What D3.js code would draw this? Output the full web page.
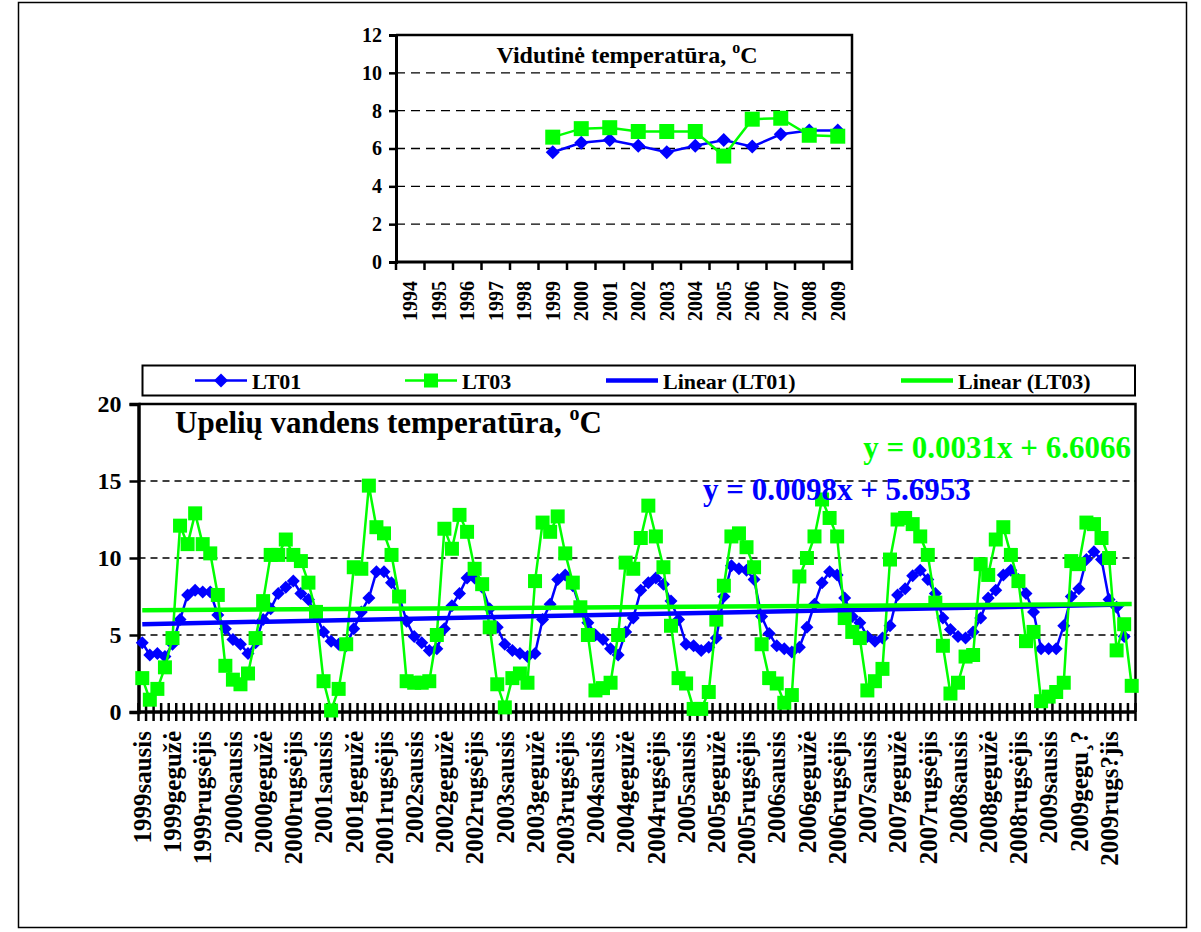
<!DOCTYPE html>
<html>
<head>
<meta charset="utf-8">
<script src="https://cdn.jsdelivr.net/npm/d3@7"></script>
<style>
body { margin: 0; background: #fff; }
svg text { font-family: "Liberation Serif", "DejaVu Serif", serif; font-weight: bold; fill: #000; }
</style>
</head>
<body>
<svg id="chart" width="1201" height="932"></svg>
<script>
// ---- data: yearly averages (top chart) ----
var yearLabels = ["1994","1995","1996","1997","1998","1999","2000","2001",
                  "2002","2003","2004","2005","2006","2007","2008","2009"];
var yearLT01 = [null,null,null,null,null,5.8,6.3,6.45,6.15,5.8,6.15,6.45,6.1,6.75,6.95,6.95];
var yearLT03 = [null,null,null,null,null,6.6,7.05,7.1,6.9,6.9,6.9,5.6,7.55,7.6,6.7,6.65];

// ---- data: monthly values 1999-2009 (bottom chart) ----
var monthLT01 = [
  4.5,3.7,3.8,3.6,4.4,6.0,7.6,7.9,7.8,7.8,6.3,5.4,
  4.7,4.4,3.8,4.5,6.0,6.7,7.7,8.1,8.5,7.7,7.3,6.3,
  5.2,4.6,4.4,4.3,5.4,6.5,7.4,9.1,9.1,8.4,7.5,5.9,
  4.9,4.5,4.0,4.1,5.4,6.9,7.7,8.7,8.7,8.1,6.7,5.5,
  4.4,4.0,3.8,3.6,3.8,6.0,7.0,8.6,8.9,8.2,6.7,5.8,
  5.0,4.7,4.1,3.7,5.2,6.1,7.9,8.4,8.7,8.3,7.2,6.0,
  4.4,4.3,4.0,4.2,4.8,7.5,9.5,9.3,9.2,8.6,6.2,5.1,
  4.3,4.1,3.9,4.2,5.5,7.0,8.4,9.1,8.9,7.4,6.2,5.8,
  4.9,4.6,4.8,5.6,7.6,8.0,8.85,9.2,8.6,7.7,6.1,5.35,
  4.9,4.8,5.2,6.1,7.4,7.9,8.9,9.2,8.6,7.7,6.5,4.1,
  4.1,4.1,5.6,7.5,8.0,9.9,10.4,9.9,7.3,6.8,4.9
];
var monthLT03 = [
  2.2,0.8,1.5,2.9,4.8,12.1,10.9,12.9,10.9,10.3,7.6,3.0,
  2.1,1.8,2.5,4.8,7.2,10.2,10.2,11.2,10.2,9.8,8.4,6.5,
  2.0,0.1,1.5,4.4,9.4,9.3,14.7,12.0,11.6,10.2,7.5,2.0,
  1.9,1.9,2.0,5.0,11.9,10.6,12.8,11.7,9.3,8.3,5.5,1.8,
  0.3,2.2,2.5,1.9,8.5,12.3,11.7,12.7,10.3,8.4,6.8,5.0,
  1.4,1.55,1.9,5.0,9.7,9.3,11.3,13.4,11.4,9.4,5.6,2.2,
  1.85,0.2,0.2,1.3,6.0,8.2,11.4,11.6,10.7,9.4,4.4,2.2,
  1.85,0.6,1.1,8.8,10.0,11.4,13.8,12.6,11.4,6.1,5.2,4.8,
  1.4,2.0,2.8,9.9,12.5,12.6,12.2,11.4,10.2,7.1,4.3,1.2,
  1.9,3.6,3.7,9.6,8.9,11.2,12.0,10.2,8.5,4.6,5.2,0.7,
  1.0,1.3,1.9,9.8,9.6,12.3,12.2,11.3,10.0,4.0,5.7,1.7
];
// one label every 4th month
var monthTickLabels = [
  "1999sausis","1999gegužė","1999rugsėjis",
  "2000sausis","2000gegužė","2000rugsėjis",
  "2001sausis","2001gegužė","2001rugsėjis",
  "2002sausis","2002gegužė","2002rugsėjis",
  "2003sausis","2003gegužė","2003rugsėjis",
  "2004sausis","2004gegužė","2004rugsėjis",
  "2005sausis","2005gegužė","2005rugsėjis",
  "2006sausis","2006gegužė","2006rugsėjis",
  "2007sausis","2007gegužė","2007rugsėjis",
  "2008sausis","2008gegužė","2008rugsėjis",
  "2009sausis","2009gegu¸?","2009rugs?jis"
];
var legendNames = ["LT01", "LT03", "Linear (LT01)", "Linear (LT03)"];
var trendLT01 = [0.0098, 5.6953];   // slope, intercept
var trendLT03 = [0.0031, 6.6066];
var topTicks = [0, 2, 4, 6, 8, 10, 12];
var bottomTicks = [0, 5, 10, 15, 20];

var BLUE = "#0000ff", GREEN = "#00ff00";

var svg = d3.select("#chart");
svg.append("rect").attr("width", 1201).attr("height", 932).attr("fill", "#fff");

// outer frame
svg.append("rect")
    .attr("x", 18.5).attr("y", 2.5).attr("width", 1168).attr("height", 925)
    .attr("fill", "none").attr("stroke", "#000").attr("stroke-width", 1.5);

function diamond(s) { return "M0," + (-s) + "L" + s + ",0L0," + s + "L" + (-s) + ",0Z"; }
function square(s) { return "M" + (-s) + "," + (-s) + "h" + (2 * s) + "v" + (2 * s) + "h" + (-2 * s) + "Z"; }

/* =================== top chart =================== */
var T = {l: 396, r: 852, t: 35, b: 262};
var xTop = d3.scaleBand().domain(yearLabels).range([T.l, T.r]);
var yTop = d3.scaleLinear().domain([0, 12]).range([T.b, T.t]);
var gTop = svg.append("g");

// grid
gTop.selectAll("line.grid").data(topTicks.filter(function(v){ return v > 0 && v < 12; }))
    .enter().append("line")
    .attr("x1", T.l).attr("x2", T.r)
    .attr("y1", function(d){ return yTop(d); }).attr("y2", function(d){ return yTop(d); })
    .attr("stroke", "#000").attr("stroke-width", 1.3).attr("stroke-dasharray", "9,6");

// top / right border
gTop.append("path")
    .attr("d", "M" + T.l + "," + T.t + "H" + T.r + "V" + T.b)
    .attr("fill", "none").attr("stroke", "#000").attr("stroke-width", 2.5);

// y axis
var yAxTop = gTop.append("g").attr("transform", "translate(" + T.l + ",0)")
    .call(d3.axisLeft(yTop).tickValues(topTicks).tickSize(7).tickPadding(7));
yAxTop.select(".domain").attr("stroke-width", 3);
yAxTop.selectAll(".tick line").attr("stroke-width", 2.5);
yAxTop.selectAll("text").attr("font-size", 20);

// x axis line + ticks at category edges
gTop.append("line").attr("x1", T.l - 1).attr("x2", T.r).attr("y1", T.b).attr("y2", T.b)
    .attr("stroke", "#000").attr("stroke-width", 3);
var bwT = xTop.bandwidth();
gTop.selectAll("line.xt").data(d3.range(yearLabels.length + 1)).enter().append("line")
    .attr("x1", function(i){ return T.l + i * bwT; }).attr("x2", function(i){ return T.l + i * bwT; })
    .attr("y1", T.b).attr("y2", T.b + 8)
    .attr("stroke", "#000").attr("stroke-width", 2.5);
gTop.selectAll("text.xl").data(yearLabels).enter().append("text")
    .attr("transform", function(d){ return "translate(" + (xTop(d) + bwT / 2) + "," + (T.b + 19) + ") rotate(-90)"; })
    .attr("text-anchor", "end").attr("dy", "0.35em").attr("font-size", 20)
    .text(function(d){ return d; });

// series
var lineTop = d3.line()
    .defined(function(d){ return d != null; })
    .x(function(d, i){ return xTop(yearLabels[i]) + bwT / 2; })
    .y(function(d){ return yTop(d); });

[[yearLT01, BLUE, diamond(7)], [yearLT03, GREEN, square(7.5)]].forEach(function(s) {
    gTop.append("path").datum(s[0]).attr("d", lineTop)
        .attr("fill", "none").attr("stroke", s[1]).attr("stroke-width", 2.5);
    gTop.selectAll(null).data(s[0].map(function(v, i){ return {v: v, i: i}; }).filter(function(d){ return d.v != null; }))
        .enter().append("path")
        .attr("d", s[2]).attr("fill", s[1])
        .attr("transform", function(d){ return "translate(" + (xTop(yearLabels[d.i]) + bwT / 2) + "," + yTop(d.v) + ")"; });
});

var tTop = gTop.append("text").attr("x", 627).attr("y", 63).attr("text-anchor", "middle").attr("font-size", 24);
tTop.append("tspan").text("Vidutinė temperatūra, ");
tTop.append("tspan").text("o").attr("font-size", 16).attr("dy", -10);
tTop.append("tspan").text("C").attr("dy", 10);

/* =================== bottom chart =================== */
var B = {l: 138.5, r: 1135.5, t: 404, b: 712};
var months = d3.range(monthLT03.length);
var xBot = d3.scaleBand().domain(months).range([B.l, B.r]);
var yBot = d3.scaleLinear().domain([0, 20]).range([B.b, B.t]);
var bwB = xBot.bandwidth();
var gBot = svg.append("g");
function cx(i) { return xBot(i) + bwB / 2; }

// legend box
var L = gBot.append("g");
L.append("rect").attr("x", 142.5).attr("y", 365.5).attr("width", 992.5).attr("height", 30)
    .attr("fill", "#fff").attr("stroke", "#000").attr("stroke-width", 2);
var legX = [195, 405, 606, 901];
legendNames.forEach(function(name, k) {
    var col = (k % 2 === 0) ? BLUE : GREEN;
    var x0 = legX[k];
    L.append("line").attr("x1", x0).attr("x2", x0 + 52).attr("y1", 380.5).attr("y2", 380.5)
        .attr("stroke", col).attr("stroke-width", k < 2 ? 2.5 : 4.5);
    if (k === 0) L.append("path").attr("d", diamond(7)).attr("fill", col).attr("transform", "translate(" + (x0 + 26) + ",380.5)");
    if (k === 1) L.append("path").attr("d", square(7)).attr("fill", col).attr("transform", "translate(" + (x0 + 26) + ",380.5)");
    L.append("text").attr("x", x0 + 57).attr("y", 388.5).attr("font-size", 22).text(name);
});

// grid
gBot.selectAll("line.grid").data(bottomTicks.filter(function(v){ return v > 0 && v < 20; }))
    .enter().append("line")
    .attr("x1", B.l).attr("x2", B.r)
    .attr("y1", function(d){ return yBot(d); }).attr("y2", function(d){ return yBot(d); })
    .attr("stroke", "#000").attr("stroke-width", 1.3).attr("stroke-dasharray", "7,5");

gBot.append("path")
    .attr("d", "M" + B.l + "," + B.t + "H" + B.r + "V" + B.b)
    .attr("fill", "none").attr("stroke", "#000").attr("stroke-width", 2.5);

var yAxBot = gBot.append("g").attr("transform", "translate(" + B.l + ",0)")
    .call(d3.axisLeft(yBot).tickValues(bottomTicks).tickSize(9).tickPadding(8));
yAxBot.select(".domain").attr("stroke-width", 3.5);
yAxBot.selectAll(".tick line").attr("stroke-width", 2.5);
yAxBot.selectAll("text").attr("font-size", 24);

gBot.append("line").attr("x1", B.l - 1).attr("x2", B.r).attr("y1", B.b).attr("y2", B.b)
    .attr("stroke", "#000").attr("stroke-width", 3.5);
gBot.selectAll("line.xt").data(d3.range(months.length + 1)).enter().append("line")
    .attr("x1", function(i){ return B.l + i * bwB; }).attr("x2", function(i){ return B.l + i * bwB; })
    .attr("y1", B.b - 9).attr("y2", B.b + 9)
    .attr("stroke", "#000").attr("stroke-width", 2.5);
gBot.selectAll("text.xl").data(monthTickLabels).enter().append("text")
    .attr("transform", function(d, k){ return "translate(" + cx(k * 4) + "," + (B.b + 19) + ") rotate(-90)"; })
    .attr("text-anchor", "end").attr("dy", "0.35em").attr("font-size", 25)
    .text(function(d){ return d; });

// series
var lineBot = d3.line().x(function(d, i){ return cx(i); }).y(function(d){ return yBot(d); });
[[monthLT01, BLUE, diamond(6.5)], [monthLT03, GREEN, square(7)]].forEach(function(s) {
    gBot.append("path").datum(s[0]).attr("d", lineBot)
        .attr("fill", "none").attr("stroke", s[1]).attr("stroke-width", 2.5);
    gBot.selectAll(null).data(s[0]).enter().append("path")
        .attr("d", s[2]).attr("fill", s[1])
        .attr("transform", function(d, i){ return "translate(" + cx(i) + "," + yBot(d) + ")"; });
});

// linear trend lines (x = 1..n as in Excel)
[[trendLT01, monthLT01.length, BLUE], [trendLT03, monthLT03.length, GREEN]].forEach(function(t) {
    var n = t[1];
    gBot.append("line")
        .attr("x1", cx(0)).attr("y1", yBot(t[0][0] * 1 + t[0][1]))
        .attr("x2", cx(n - 1)).attr("y2", yBot(t[0][0] * n + t[0][1]))
        .attr("stroke", t[2]).attr("stroke-width", 4.5);
});

// titles and equations
var tBot = gBot.append("text").attr("x", 175).attr("y", 433).attr("font-size", 31);
tBot.append("tspan").text("Upelių vandens temperatūra, ");
tBot.append("tspan").text("o").attr("font-size", 20).attr("dy", -13);
tBot.append("tspan").text("C").attr("dy", 13);

gBot.append("text").attr("x", 1131).attr("y", 458).attr("text-anchor", "end")
    .attr("font-size", 31).style("fill", GREEN)
    .text("y = " + trendLT03[0].toFixed(4) + "x + " + trendLT03[1].toFixed(4));
gBot.append("text").attr("x", 703).attr("y", 500)
    .attr("font-size", 31).style("fill", BLUE)
    .text("y = " + trendLT01[0].toFixed(4) + "x + " + trendLT01[1].toFixed(4));
</script>
</body>
</html>
